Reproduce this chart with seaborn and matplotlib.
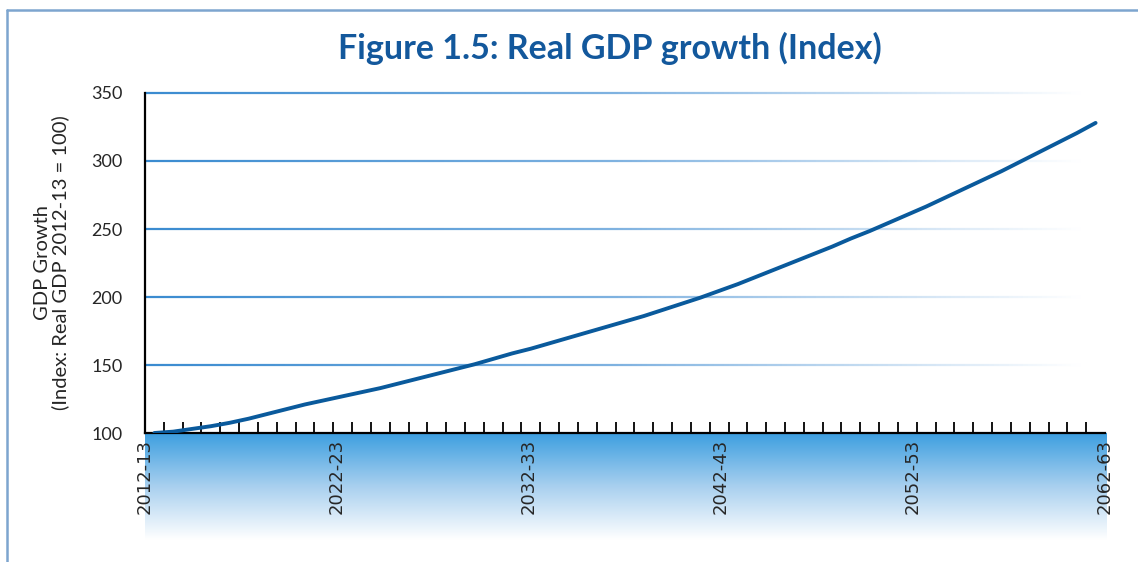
import numpy as np
import pandas as pd
import matplotlib.pyplot as plt
import seaborn as sns
from matplotlib.collections import LineCollection
from matplotlib.lines import Line2D
from matplotlib.colors import LinearSegmentedColormap

# financial years 2012-13 .. 2062-63
years = [f"{y}-{str(y + 1)[-2:]}" for y in range(2012, 2063)]
gdp_index = [100, 101, 103, 105, 107.5, 110.5, 114, 117.5, 121, 124,
             127, 130, 133, 136.5, 140, 143.5, 147, 150.5, 154.5, 158.5,
             162, 166, 170, 174, 178, 182, 186, 190.5, 195, 199.5,
             204.5, 209.5, 215, 220.5, 226, 231.5, 237, 243, 248.5, 254.5,
             260.5, 266.5, 273, 279.5, 286, 292.5, 299.5, 306.5, 313.5, 320.5,
             328]
label_years = ["2012-13", "2022-23", "2032-33", "2042-43", "2052-53", "2062-63"]
y_ticks = [100, 150, 200, 250, 300, 350]

df = pd.DataFrame({"year": years, "idx": gdp_index})
df["pos"] = np.arange(len(df))

sns.set_style("white")
plt.rcParams["font.family"] = ["Lato", "DejaVu Sans"]

fig = plt.figure(figsize=(11.38, 5.62), dpi=100)

# gradient band under the x axis
grad_ax = fig.add_axes([145 / 1138, (562 - 540) / 562, 962 / 1138, 107 / 562])
grad = LinearSegmentedColormap.from_list("band", ["#3d9fe0", "#a9d0ef", "#ffffff"])
grad_ax.imshow(np.linspace(0, 1, 200).reshape(-1, 1), aspect="auto", cmap=grad,
               extent=[0, 1, 0, 1])
grad_ax.axis("off")
grad_ax.set_zorder(0)

ax = fig.add_axes([145 / 1138, (562 - 433) / 562, 960 / 1138, 340 / 562])
ax.set_zorder(1)

sns.lineplot(data=df, x="pos", y="idx", ax=ax, color="#0a5a9c", linewidth=2.8, zorder=3)

ax.set_xlim(-0.5, len(df) - 0.5)
ax.set_ylim(100, 350)

# gridlines fading to white on the right
x0, x1 = ax.get_xlim()
xs = np.linspace(x0, x1, 200)
fade = LinearSegmentedColormap.from_list("fade", ["#3a8bd0", "#7fb2e0", "#ffffff"])
for yv in y_ticks[1:]:
    pts = np.array([[xs[i], yv] for i in range(len(xs))])
    segs = np.stack([pts[:-1], pts[1:]], axis=1)
    cols = fade(np.clip(np.linspace(0, 1.02, len(segs)), 0, 1))
    ax.add_collection(LineCollection(segs, colors=cols, linewidths=1.6, zorder=1,
                                     clip_on=False))

ax.set_yticks(y_ticks)
ax.set_yticklabels([str(v) for v in y_ticks], fontsize=13)
ax.tick_params(axis="y", length=0, pad=16)

ax.set_xticks(np.linspace(x0, x1, len(label_years)))
ax.set_xticklabels(label_years, rotation=90, fontsize=13, family="DejaVu Sans")
ax.set_xticks(np.arange(x0, x1 + 0.01, 1), minor=True)
ax.tick_params(axis="x", which="major", bottom=True, length=0, pad=4)
ax.tick_params(axis="x", which="minor", bottom=True, direction="in", length=8,
               width=1.3, color="black")

for s in ["top", "right"]:
    ax.spines[s].set_visible(False)
for s in ["left", "bottom"]:
    ax.spines[s].set_color("black")
    ax.spines[s].set_linewidth(1.6)

ax.set_xlabel("")
ax.set_ylabel("GDP Growth\n(Index: Real GDP 2012-13 = 100)", fontsize=14.5, labelpad=16,
              linespacing=1.05)

fig.text(0.536, 0.913, "Figure 1.5: Real GDP growth (Index)", ha="center", va="center",
         fontsize=24.5, fontweight="bold", color="#13589c")

# frame lines of the figure box
fig.add_artist(Line2D([7 / 1138, 1], [1 - 10 / 562] * 2, color="#7da5cf", linewidth=1.8))
fig.add_artist(Line2D([7 / 1138] * 2, [0, 1 - 10 / 562], color="#7da5cf", linewidth=1.8))

fig.savefig("out.png", dpi=100)
